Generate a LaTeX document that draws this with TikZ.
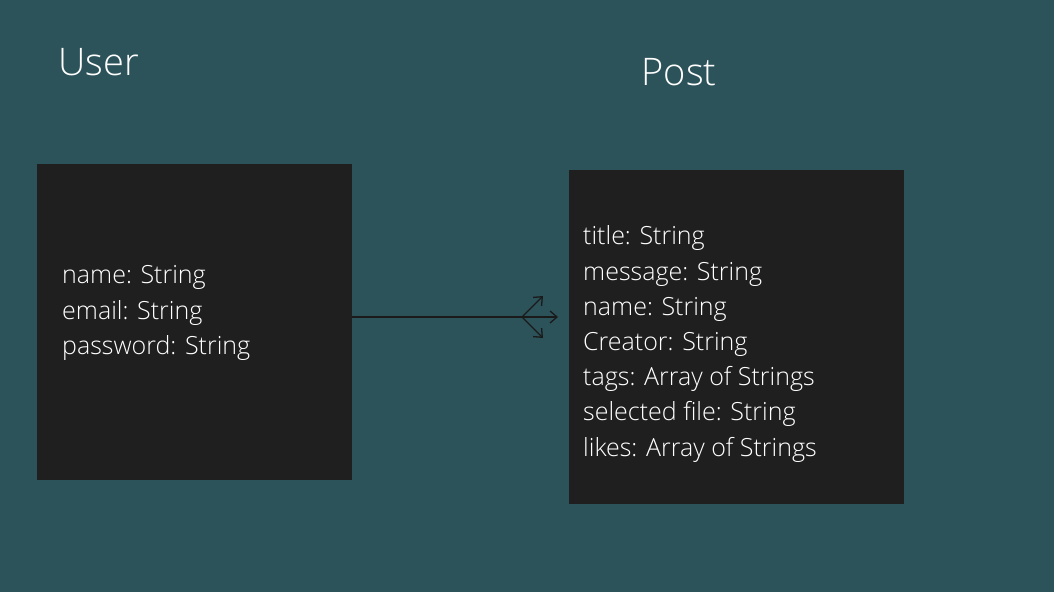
\documentclass[tikz,border=0pt]{standalone}
\usepackage{fontspec}
\setmainfont{Open Sans}[UprightFont={* Light}]
\usetikzlibrary{arrows.meta}
\definecolor{bg}{HTML}{2C535A}
\definecolor{boxc}{HTML}{1F1F1F}
\definecolor{linec}{HTML}{1A1A1A}
\begin{document}
\begin{tikzpicture}[x=1pt,y=1pt,
  entity/.style={fill=boxc,draw=none,inner sep=0pt,anchor=north west},
  title/.style={text=white,font=\fontsize{38}{42}\selectfont,anchor=center,inner sep=0pt},
  attrs/.style={text=white,font=\fontsize{25}{35.2}\selectfont,align=left,anchor=west,inner sep=0pt},
  rel/.style={draw=linec,line width=1.3pt},
  foottip/.style={rel,-{Straight Barb[length=7pt,width=12pt,line width=1.3pt]}}]
\fill[bg] (0,0) rectangle (1054,-592);
\useasboundingbox (0,0) rectangle (1054,-592);
\node[title] (usertitle) at (99,-62) {User};
\node[title] (posttitle) at (679,-72) {Post};
\node[entity,minimum width=315pt,minimum height=316pt] (user) at (37,-164) {};
\node[entity,minimum width=335pt,minimum height=334pt] (post) at (569,-170) {};
\node[attrs] (userattrs) at (62,-313) {name: String\\email: String\\password: String};
\node[attrs] (postattrs) at (583,-344) {title: String\\message: String\\name: String\\Creator: String\\tags: Array of Strings\\selected file: String\\likes: Array of Strings};
\coordinate (foot) at (522,-317);
\coordinate (tipup) at (543,-296);
\coordinate (tipmid) at (558,-317);
\coordinate (tipdown) at (543,-338);
\draw[rel] (user.east |- foot) -- (foot);
\draw[foottip] (foot) -- (tipup);
\draw[foottip] (foot) -- (tipmid);
\draw[foottip] (foot) -- (tipdown);
\end{tikzpicture}
\end{document}
